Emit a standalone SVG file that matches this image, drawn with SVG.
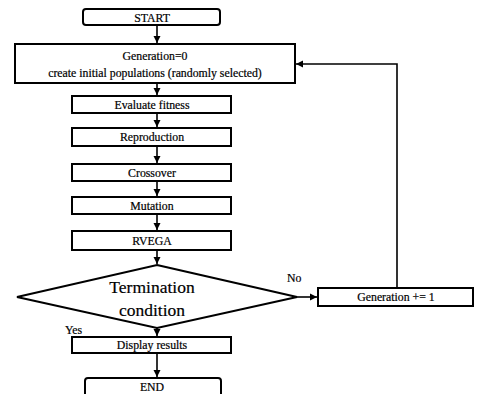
<svg xmlns="http://www.w3.org/2000/svg" width="477" height="394" viewBox="0 0 477 394">
<defs>
<marker id="ah" markerWidth="8" markerHeight="8" refX="7" refY="4" orient="auto" markerUnits="userSpaceOnUse">
<path d="M0,0.5 L7,4 L0,7.5 Z" fill="#000"/>
</marker>
<style>
.box{fill:#fff;stroke:#000;stroke-width:2}
.t{font-family:"Liberation Serif","Times New Roman",serif;font-size:11.8px;fill:#000;stroke:#000;stroke-width:0.2;text-anchor:middle;dominant-baseline:central}
.big{font-size:17.5px;stroke-width:0.2}
.lbl{text-anchor:start}
.c{fill:none;stroke:#000;stroke-width:1.6}
</style>
</defs>
<rect width="477" height="394" fill="#fff"/>
<g id="connectors">
<line class="c" x1="157" y1="25" x2="157" y2="43" marker-end="url(#ah)"/>
<line class="c" x1="157" y1="83" x2="157" y2="95" marker-end="url(#ah)"/>
<line class="c" x1="157" y1="113" x2="157" y2="127" marker-end="url(#ah)"/>
<line class="c" x1="157" y1="146" x2="157" y2="163" marker-end="url(#ah)"/>
<line class="c" x1="157" y1="181" x2="157" y2="196" marker-end="url(#ah)"/>
<line class="c" x1="157" y1="214" x2="157" y2="230" marker-end="url(#ah)"/>
<line class="c" x1="157" y1="250" x2="157" y2="264" marker-end="url(#ah)"/>
<line class="c" x1="297" y1="297" x2="317" y2="297" marker-end="url(#ah)"/>
<polyline class="c" points="397,288 397,64 296,64" marker-end="url(#ah)"/>
<line class="c" x1="157" y1="328" x2="157" y2="336" marker-end="url(#ah)"/>
<line class="c" x1="157" y1="353" x2="157" y2="377" marker-end="url(#ah)"/>
<text class="t lbl" x="287" y="278">No</text>
<text class="t lbl" x="65" y="330">Yes</text>
</g>
<g id="start">
<rect class="box" x="83" y="9" width="137" height="16" rx="3"/>
<text class="t" x="152" y="17.5">START</text>
</g>
<g id="init">
<rect class="box" x="15" y="44" width="280" height="39"/>
<text class="t" x="155" y="56">Generation=0</text>
<text class="t" x="155" y="73">create initial populations (randomly selected)</text>
</g>
<g id="evaluate">
<rect class="box" x="72" y="96" width="159" height="17"/>
<text class="t" x="152" y="104.5">Evaluate fitness</text>
</g>
<g id="reproduction">
<rect class="box" x="72" y="128" width="159" height="18"/>
<text class="t" x="152" y="137">Reproduction</text>
</g>
<g id="crossover">
<rect class="box" x="72" y="164" width="159" height="17"/>
<text class="t" x="152" y="172.5">Crossover</text>
</g>
<g id="mutation">
<rect class="box" x="72" y="197" width="159" height="17"/>
<text class="t" x="152" y="205.5">Mutation</text>
</g>
<g id="rvega">
<rect class="box" x="72" y="231" width="159" height="19"/>
<text class="t" x="152" y="240.5">RVEGA</text>
</g>
<g id="termination">
<polygon class="box" points="157,265 297,297 157,328 17,297"/>
<text class="t big" x="152" y="287">Termination</text>
<text class="t big" x="152" y="310">condition</text>
</g>
<g id="increment">
<rect class="box" x="318" y="288" width="155" height="18"/>
<text class="t" x="396" y="297">Generation += 1</text>
</g>
<g id="display">
<rect class="box" x="72" y="337" width="159" height="16"/>
<text class="t" x="152" y="345">Display results</text>
</g>
<g id="end">
<rect class="box" x="85" y="378" width="136" height="22" rx="3"/>
<text class="t" x="152" y="387">END</text>
</g>
</svg>
